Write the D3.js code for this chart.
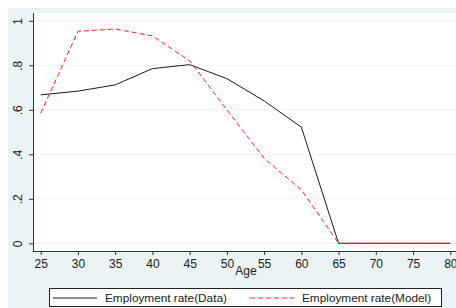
<!DOCTYPE html>
<html>
<head>
<meta charset="utf-8">
<script src="https://cdn.jsdelivr.net/npm/d3@7"></script>
<style>
  body { margin: 0; background: #fff; }
  svg { display: block; font-family: "Liberation Sans", Arial, sans-serif; }
</style>
</head>
<body>
<div id="chart"></div>
<script>
// ages on the x axis
const ages = [25, 30, 35, 40, 45, 50, 55, 60, 65, 70, 75, 80];
// employment rate observed in data
const dataRate = [0.667, 0.684, 0.712, 0.785, 0.803, 0.74, 0.64, 0.522, 0, 0, 0, 0];
// employment rate from the model
const modelRate = [0.585, 0.953, 0.963, 0.932, 0.82, 0.6, 0.382, 0.24, 0, 0, 0, 0];
const yTicks = [0, 0.2, 0.4, 0.6, 0.8, 1];
const yTickLabels = ['0', '.2', '.4', '.6', '.8', '1'];
const seriesNames = ['Employment rate(Data)', 'Employment rate(Model)'];

const width = 456, height = 308;
const svg = d3.select('#chart').append('svg')
  .attr('width', width)
  .attr('height', height);

// outer graph region
svg.append('rect')
  .attr('x', 8).attr('y', 8)
  .attr('width', width - 8).attr('height', height - 8)
  .attr('fill', '#eaf2f3');

// plot region
svg.append('rect')
  .attr('x', 33).attr('y', 13)
  .attr('width', width - 33).attr('height', 251 - 13)
  .attr('fill', '#ffffff');

const x = d3.scaleLinear().domain([25, 80]).range([40.7, 450.3]);
const y = d3.scaleLinear().domain([0, 1]).range([243.3, 20.8]);

// gridlines
svg.append('g')
  .selectAll('line')
  .data(yTicks)
  .join('line')
    .attr('x1', 34).attr('x2', width)
    .attr('y1', d => y(d)).attr('y2', d => y(d))
    .attr('stroke', '#eaf2f3')
    .attr('stroke-width', 1);

// y axis
const yAxis = d3.axisLeft(y)
  .tickValues(yTicks)
  .tickFormat((d, i) => yTickLabels[i])
  .tickSize(4)
  .tickPadding(4);

const gy = svg.append('g')
  .attr('transform', 'translate(33,0)')
  .call(yAxis);
gy.select('.domain').attr('d', `M0.5,13V251.5`).attr('stroke', '#333');
gy.selectAll('.tick line').attr('stroke', '#333');
gy.selectAll('.tick text')
  .attr('font-size', 12)
  .attr('fill', '#222')
  .attr('transform', 'rotate(-90)')
  .attr('x', 0)
  .attr('y', -15)
  .attr('dy', '0.35em')
  .style('text-anchor', 'middle');

// x axis
const xAxis = d3.axisBottom(x)
  .tickValues(ages)
  .tickFormat(d3.format('d'))
  .tickSize(4)
  .tickPadding(4);

const gx = svg.append('g')
  .attr('transform', 'translate(0,251)')
  .call(xAxis);
gx.select('.domain').attr('d', `M33,0.5H${width}`).attr('stroke', '#333');
gx.selectAll('.tick line').attr('stroke', '#333');
gx.selectAll('.tick text')
  .attr('font-size', 12)
  .attr('fill', '#222');

// x axis title
svg.append('text')
  .attr('x', 246)
  .attr('y', 275)
  .attr('text-anchor', 'middle')
  .attr('font-size', 12)
  .attr('fill', '#222')
  .text('Age');

const line = d3.line()
  .x((d, i) => x(ages[i]))
  .y(d => y(d));

svg.append('path')
  .datum(dataRate)
  .attr('fill', 'none')
  .attr('stroke', '#1a1a1a')
  .attr('stroke-width', 1)
  .attr('d', line);

svg.append('path')
  .datum(modelRate)
  .attr('fill', 'none')
  .attr('stroke', '#ff2020')
  .attr('stroke-width', 1)
  .attr('stroke-dasharray', '5,3')
  .attr('d', line);

// legend
const legend = svg.append('g');
legend.append('rect')
  .attr('x', 49.5).attr('y', 288.5)
  .attr('width', 392).attr('height', 18)
  .attr('fill', '#fff')
  .attr('stroke', '#222');

const legendItems = [
  { name: seriesNames[0], color: '#1a1a1a', dash: null, x0: 53, x1: 97, tx: 105 },
  { name: seriesNames[1], color: '#ff2020', dash: '5,3', x0: 250, x1: 294, tx: 302 }
];

legendItems.forEach(item => {
  legend.append('line')
    .attr('x1', item.x0).attr('x2', item.x1)
    .attr('y1', 298).attr('y2', 298)
    .attr('stroke', item.color)
    .attr('stroke-width', 1)
    .attr('stroke-dasharray', item.dash);
  legend.append('text')
    .attr('x', item.tx)
    .attr('y', 302)
    .attr('font-size', 11.8)
    .attr('fill', '#222')
    .text(item.name);
});
</script>
</body>
</html>
